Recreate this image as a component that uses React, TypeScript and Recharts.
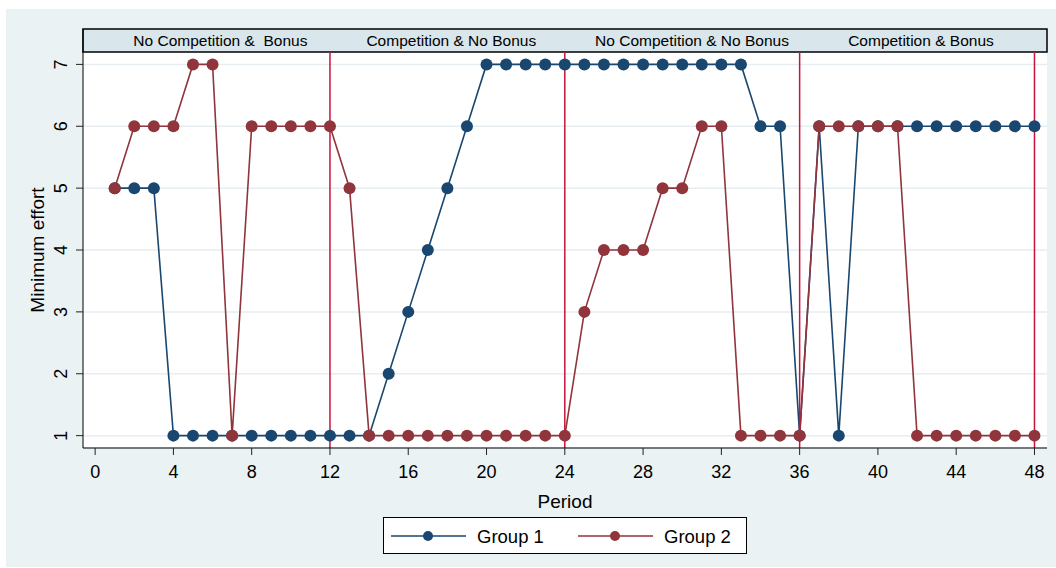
import {
  LineChart,
  Line,
  XAxis,
  YAxis,
  CartesianGrid,
  ReferenceLine,
  ReferenceArea,
  ReferenceDot,
} from "recharts";

const periods = [
  1, 2, 3, 4, 5, 6, 7, 8, 9, 10, 11, 12, 13, 14, 15, 16, 17, 18, 19, 20, 21, 22, 23, 24,
  25, 26, 27, 28, 29, 30, 31, 32, 33, 34, 35, 36, 37, 38, 39, 40, 41, 42, 43, 44, 45, 46, 47, 48,
];
const group1 = [
  5, 5, 5, 1, 1, 1, 1, 1, 1, 1, 1, 1, 1, 1, 2, 3, 4, 5, 6, 7, 7, 7, 7, 7,
  7, 7, 7, 7, 7, 7, 7, 7, 7, 6, 6, 1, 6, 1, 6, 6, 6, 6, 6, 6, 6, 6, 6, 6,
];
const group2 = [
  5, 6, 6, 6, 7, 7, 1, 6, 6, 6, 6, 6, 5, 1, 1, 1, 1, 1, 1, 1, 1, 1, 1, 1,
  3, 4, 4, 4, 5, 5, 6, 6, 1, 1, 1, 1, 6, 6, 6, 6, 6, 1, 1, 1, 1, 1, 1, 1,
];
const xTicks = [0, 4, 8, 12, 16, 20, 24, 28, 32, 36, 40, 44, 48];
const yTicks = [1, 2, 3, 4, 5, 6, 7];
const phaseBreaks = [12, 24, 36, 48];
// the first label has a double space in the original; nbsp keeps it in svg
const phaseLabels = [
  "No Competition &\u00a0 Bonus",
  "Competition & No Bonus",
  "No Competition & No Bonus",
  "Competition & Bonus",
];
const phaseLabelCenters = [6.4, 18.2, 30.5, 42.2];

const BLUE = "#1a476f";
const RED = "#90353b";
const VLINE = "#c8143c";
const FONT = "'Liberation Sans', Arial, Helvetica, sans-serif";

// plot domain; the part above 7.2 holds the header strip
const X_DOMAIN: [number, number] = [-0.62, 48.64];
const Y_TOP = 7.2;
const Y_DOMAIN: [number, number] = [0.8, 7.572];

const series = [
  { key: "g1", name: "Group 1", color: BLUE },
  { key: "g2", name: "Group 2", color: RED },
];

const chartData = periods.map((p, i) => ({ period: p, g1: group1[i], g2: group2[i] }));

function YTick(props: any) {
  const { x, y, payload } = props;
  const bx = x - 7;
  return (
    <text
      x={bx}
      y={y}
      transform={`rotate(-90 ${bx} ${y})`}
      textAnchor="middle"
      fontSize={18}
      fontFamily={FONT}
      fill="#000"
    >
      {payload.value}
    </text>
  );
}

function LegendBox() {
  return (
    <div
      style={{
        position: "absolute",
        left: 383,
        top: 517,
        width: 362,
        height: 35,
        background: "#fff",
        border: "1px solid #000",
      }}
    >
      <svg width={362} height={35}>
        {series.map((s, i) => {
          const x0 = 7 + i * 187;
          return (
            <g key={s.key}>
              <line x1={x0} y1={18} x2={x0 + 75} y2={18} stroke={s.color} strokeWidth={1.5} />
              <circle cx={x0 + 37} cy={18} r={5} fill={s.color} />
              <text x={x0 + 86} y={24.5} fontSize={18.5} fontFamily={FONT} fill="#000">
                {s.name}
              </text>
            </g>
          );
        })}
      </svg>
    </div>
  );
}

export default function App() {
  return (
    <div
      style={{
        position: "absolute",
        left: 0,
        top: 0,
        width: 1056,
        height: 568,
        background: "#fff",
      }}
    >
      <div
        style={{
          position: "absolute",
          left: 6,
          top: 9,
          width: 1050,
          height: 558,
          background: "#eaf2f3",
        }}
      />
      <div style={{ position: "absolute", left: 0, top: 0 }}>
        <LineChart
          width={1056}
          height={568}
          data={chartData}
          margin={{ top: 29, right: 9, bottom: 60, left: 23 }}
        >
          <CartesianGrid
            vertical={false}
            fill="#fff"
            stroke="#e6eef1"
            strokeWidth={1.5}
          />
          <XAxis
            dataKey="period"
            type="number"
            domain={X_DOMAIN}
            ticks={xTicks}
            allowDataOverflow
            height={60}
            tickSize={7}
            tickMargin={10}
            tick={{ fontSize: 18, fontFamily: FONT, fill: "#000" }}
            tickLine={{ stroke: "#222" }}
            axisLine={{ stroke: "#000" }}
            label={{
              content: (p: any) => {
                const vb = p.viewBox;
                return (
                  <text
                    x={vb.x + vb.width / 2}
                    y={508}
                    textAnchor="middle"
                    fontSize={19}
                    fontFamily={FONT}
                    fill="#000"
                  >
                    Period
                  </text>
                );
              },
            }}
          />
          <YAxis
            type="number"
            domain={Y_DOMAIN}
            ticks={yTicks}
            allowDataOverflow
            width={60}
            tickSize={7}
            tickMargin={2}
            tick={<YTick />}
            tickLine={{ stroke: "#222" }}
            axisLine={{ stroke: "#000" }}
            label={{
              content: (p: any) => {
                const vb = p.viewBox;
                const cy = vb.y + 23 + (vb.height - 23) / 2;
                return (
                  <text
                    x={44}
                    y={cy}
                    transform={`rotate(-90 44 ${cy})`}
                    textAnchor="middle"
                    fontSize={19}
                    fontFamily={FONT}
                    fill="#000"
                  >
                    Minimum effort
                  </text>
                );
              },
            }}
          />
          <ReferenceArea
            x1={X_DOMAIN[0]}
            x2={X_DOMAIN[1]}
            y1={Y_TOP}
            y2={Y_DOMAIN[1]}
            fill="#d9e6eb"
            fillOpacity={1}
            stroke="#000"
            strokeWidth={1.5}
            ifOverflow="visible"
          />
          {phaseLabels.map((lab, i) => (
            <ReferenceDot
              key={lab}
              x={phaseLabelCenters[i]}
              y={(Y_TOP + Y_DOMAIN[1]) / 2}
              r={0}
              fill="none"
              stroke="none"
              ifOverflow="visible"
              label={{
                value: lab,
                position: "center",
                fontSize: 15.5,
                fontFamily: FONT,
                fill: "#000",
              }}
            />
          ))}
          {series.map((s) => (
            <Line
              key={s.key}
              type="linear"
              dataKey={s.key}
              name={s.name}
              stroke={s.color}
              strokeWidth={1.6}
              dot={{ r: 6, fill: s.color, stroke: s.color, strokeWidth: 0 }}
              isAnimationActive={false}
            />
          ))}
          {phaseBreaks.map((b) => (
            <ReferenceLine
              key={b}
              segment={[
                { x: b, y: Y_DOMAIN[0] },
                { x: b, y: Y_TOP },
              ]}
              stroke={VLINE}
              strokeWidth={1.5}
              ifOverflow="visible"
            />
          ))}
        </LineChart>
      </div>
      <LegendBox />
    </div>
  );
}
